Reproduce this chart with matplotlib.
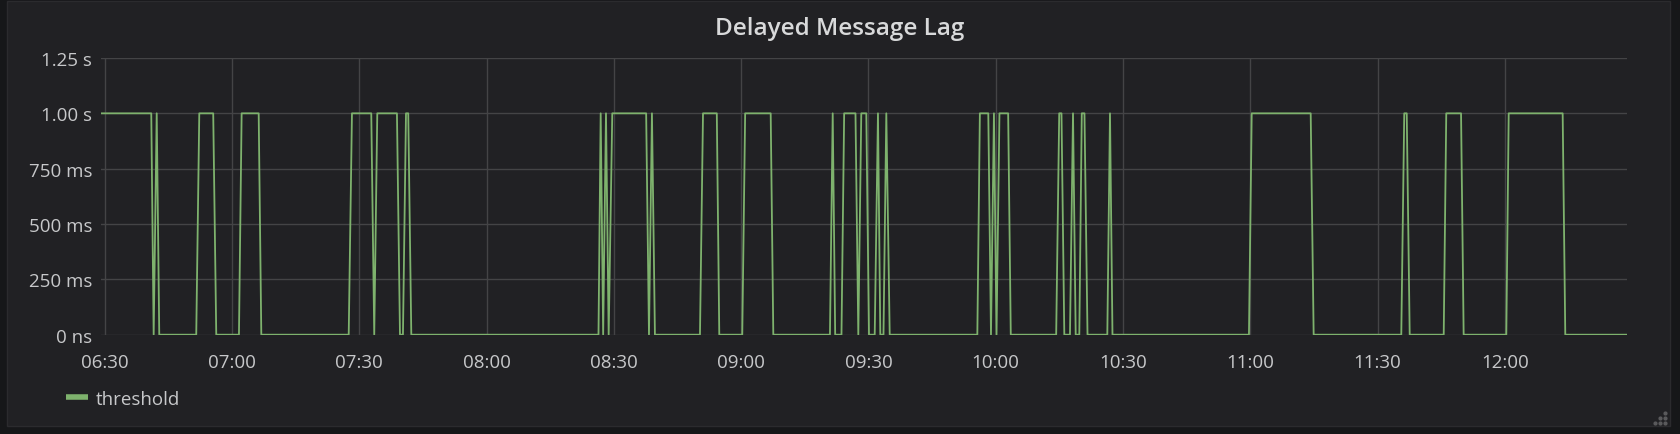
import matplotlib
matplotlib.use("Agg")
import matplotlib.pyplot as plt
from matplotlib.patches import Rectangle
from matplotlib.lines import Line2D
import pandas as pd

# threshold series, vertices (value in seconds)
times = ['06:29:04', '06:40:59', '06:41:33', '06:42:16', '06:42:52', '06:51:35',
         '06:52:18', '06:55:35', '06:56:18', '07:01:39', '07:02:17', '07:06:18',
         '07:06:55', '07:27:31', '07:28:17', '07:32:50', '07:33:32', '07:34:15',
         '07:38:53', '07:39:36', '07:40:18', '07:41:01', '07:41:33', '07:42:16',
         '08:26:23', '08:26:54', '08:27:29', '08:28:09', '08:28:47', '08:29:38',
         '08:37:37', '08:38:17', '08:38:59', '08:39:41', '08:50:18', '08:51:01',
         '08:54:16', '08:54:51', '09:00:16', '09:00:57', '09:06:58', '09:07:35',
         '09:20:56', '09:21:35', '09:22:10', '09:23:39', '09:24:17', '09:26:57',
         '09:27:37', '09:28:19', '09:29:30', '09:30:08', '09:31:29', '09:32:15',
         '09:32:48', '09:33:33', '09:34:13', '09:35:01', '09:55:40', '09:56:16',
         '09:58:15', '09:58:53', '09:59:35', '10:00:11', '10:00:53', '10:02:56',
         '10:03:33', '10:14:15', '10:14:58', '10:15:30', '10:16:10', '10:17:30',
         '10:18:13', '10:18:51', '10:19:42', '10:20:17', '10:20:55', '10:21:38',
         '10:26:18', '10:26:56', '10:27:31', '10:59:41', '11:00:20', '11:14:14',
         '11:14:56', '11:35:35', '11:36:17', '11:36:52', '11:37:34', '11:45:35',
         '11:46:11', '11:49:40', '11:50:17', '12:00:20', '12:00:54', '12:13:37',
         '12:14:14', '12:28:51']
lag_s = [1, 1, 0, 1, 0, 0,
         1, 1, 0, 0, 1, 1,
         0, 0, 1, 1, 0, 1,
         1, 0, 0, 1, 1, 0,
         0, 1, 0, 1, 0, 1,
         1, 0, 1, 0, 0, 1,
         1, 0, 0, 1, 1, 0,
         0, 1, 0, 0, 1, 1,
         0, 1, 1, 0, 0, 1,
         0, 0, 1, 0, 0, 1,
         1, 0, 1, 0, 1, 1,
         0, 0, 1, 1, 0, 0,
         1, 0, 0, 1, 1, 0,
         0, 1, 0, 0, 1, 1,
         0, 0, 1, 1, 0, 0,
         1, 1, 0, 0, 1, 1,
         0, 0]

y_ticks = [0, 0.25, 0.5, 0.75, 1.0, 1.25]
y_labels = ['0 ns', '250 ms', '500 ms', '750 ms', '1.00 s', '1.25 s']
x_labels = ['06:30', '07:00', '07:30', '08:00', '08:30', '09:00',
            '09:30', '10:00', '10:30', '11:00', '11:30', '12:00']

day = '2019-01-01 '
t = pd.to_datetime([day + s for s in times])
xt = pd.to_datetime([day + s for s in x_labels])

plt.rcParams['font.family'] = ['Open Sans', 'DejaVu Sans']

green = '#7eb26d'
panel_bg = '#212124'
text_col = '#c7c8ca'
grid_col = '#444446'

fig = plt.figure(figsize=(16.8, 4.35), dpi=100, facecolor='#161719')
fig.patches.append(Rectangle((7 / 1680, 1 - 427 / 435), 1663 / 1680, 425 / 435,
                             transform=fig.transFigure, facecolor=panel_bg,
                             edgecolor='#2b2b2e', linewidth=1, zorder=-10))

ax = fig.add_axes([100.7 / 1680, 1 - 335.7 / 435, 1526.6 / 1680, 276.7 / 435])
ax.set_zorder(1)
ax.set_facecolor(panel_bg)
ax.plot(t, lag_s, color=green, linewidth=1.3, zorder=3)

ax.set_xlim(t[0], t[-1])
ax.set_ylim(0, 1.25)
ax.set_xticks(xt)
ax.set_xticklabels(x_labels)
ax.set_yticks(y_ticks)
ax.set_yticklabels(y_labels)
ax.grid(True, color=grid_col, linewidth=1.0)
ax.set_axisbelow(True)
for sp in ax.spines.values():
    sp.set_visible(False)
ax.tick_params(length=0, colors=text_col, labelsize=13.5)
ax.tick_params(axis='x', pad=13)
ax.tick_params(axis='y', pad=6)

fig.text(0.5, 1 - 29 / 435, 'Delayed Message Lag', ha='center', va='center',
         color='#d8d9da', fontsize=17.5, fontweight='semibold')

handle = Line2D([], [], color=green, linewidth=4, solid_capstyle='butt')
ax.legend([handle], ['threshold'], loc='center left',
          bbox_to_anchor=(66 / 1680, 1 - 400 / 435), bbox_transform=fig.transFigure,
          frameon=False, borderpad=0, borderaxespad=0, handlelength=1.15,
          handletextpad=0.45, fontsize=13.5, labelcolor=text_col)

# resize handle dots in the panel corner
dot_x = [1665, 1660, 1665, 1655, 1660, 1665]
dot_y = [414, 419, 419, 424, 424, 424]
fig.add_artist(Line2D([x / 1680 for x in dot_x], [1 - y / 435 for y in dot_y],
                      transform=fig.transFigure, linestyle='none', marker='o',
                      markersize=2, color='#5a5a5c'))

fig.savefig('out.png', dpi=100, facecolor=fig.get_facecolor())
